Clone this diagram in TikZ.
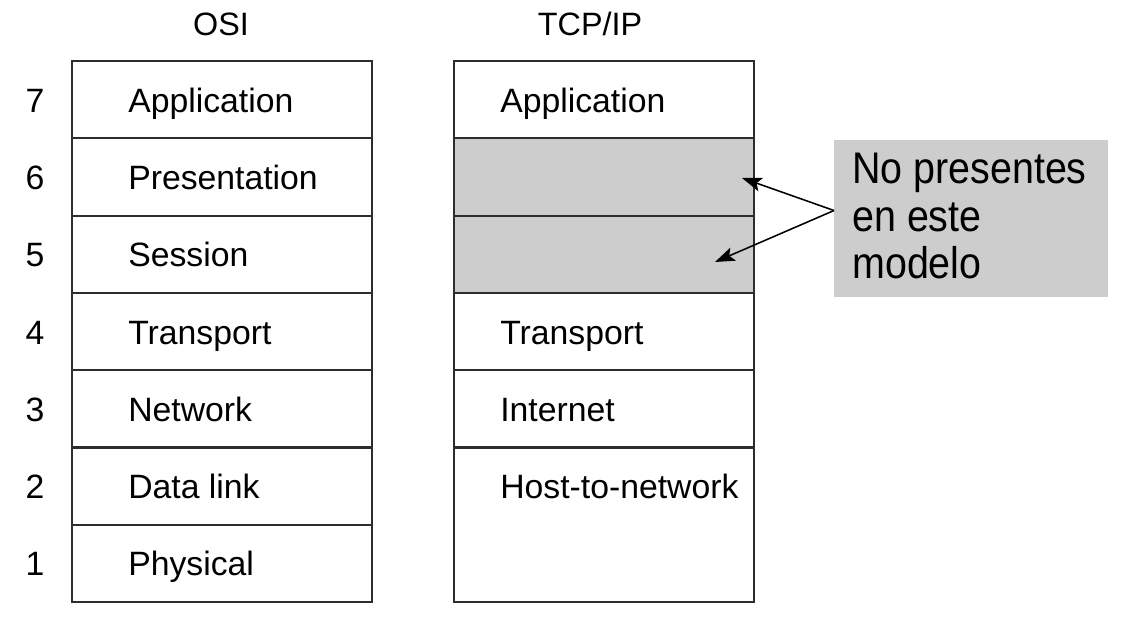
\documentclass[tikz,border=0pt]{standalone}
\usepackage{fontspec}
\setmainfont{Liberation Sans}
\newfontfamily\notefont[FakeStretch=0.89]{Liberation Sans}
\usetikzlibrary{arrows.meta}
\definecolor{holegray}{RGB}{205,205,205}
\definecolor{inkgray}{RGB}{45,45,45}
\tikzset{
  layerline/.style={draw=inkgray,line width=1.5pt},
  layertext/.style={anchor=base west,inner sep=0pt,font=\fontsize{24}{28}\selectfont},
  numtext/.style={anchor=base,inner sep=0pt,font=\fontsize{24}{28}\selectfont},
  titletext/.style={anchor=base,inner sep=0pt,font=\fontsize{23}{28}\selectfont},
  notebox/.style={fill=holegray,anchor=north west,inner xsep=0.45cm,inner ysep=0.325cm,
    text depth=2.5cm,minimum width=6.85cm,font=\notefont\fontsize{31.5}{33.8}\selectfont},
  pointer/.style={draw=black,line width=1.1pt,-{Stealth[length=14pt,width=10pt,inset=3pt]}}
}
\begin{document}
\begin{tikzpicture}[x=0.025cm,y=-0.025cm]
  \useasboundingbox (0,0) rectangle (1122,622);
  % titles
  \node[titletext] (osititle) at (221,36) {OSI};
  \node[titletext] (tcptitle) at (590,36) {TCP/IP};
  % layers 5 and 6 missing in TCP/IP
  \fill[holegray] (454,138.3) rectangle (754,292.9);
  \draw[layerline] (72,61) rectangle (372,602);
  \draw[layerline] (454,61) rectangle (754,602);
  \foreach \k in {1,...,6}
    \draw[layerline] (72,{61+\k*77.29}) -- (372,{61+\k*77.29});
  \foreach \k in {1,...,5}
    \draw[layerline] (454,{61+\k*77.29}) -- (754,{61+\k*77.29});
  % OSI layers
  \foreach \num/\name [count=\i, evaluate=\i as \base using 61+(\i-0.5)*77.29+12.5] in
      {7/Application,6/Presentation,5/Session,4/Transport,3/Network,2/Data link,1/Physical} {
    \node[numtext] (num\num) at (35,\base) {\num};
    \node[layertext] (osi\num) at (128,\base) {\name};
  }
  % TCP/IP layers
  \foreach \num/\name [evaluate=\num as \base using 61+(7.5-\num)*77.29+12.5] in
      {7/Application,4/Transport,3/Internet,2/Host-to-network}
    \node[layertext] (tcp\num) at (500,\base) {\name};
  % note
  \node[notebox] (note) at (834,140) {\parbox[t]{5.95cm}{No presentes\\en este\\modelo}};
  \coordinate (hole6) at (742,178);
  \coordinate (hole5) at (715,262);
  \draw[pointer] ([yshift=5.7pt]note.west) -- (hole6);
  \draw[pointer] ([yshift=5.7pt]note.west) -- (hole5);
\end{tikzpicture}
\end{document}
